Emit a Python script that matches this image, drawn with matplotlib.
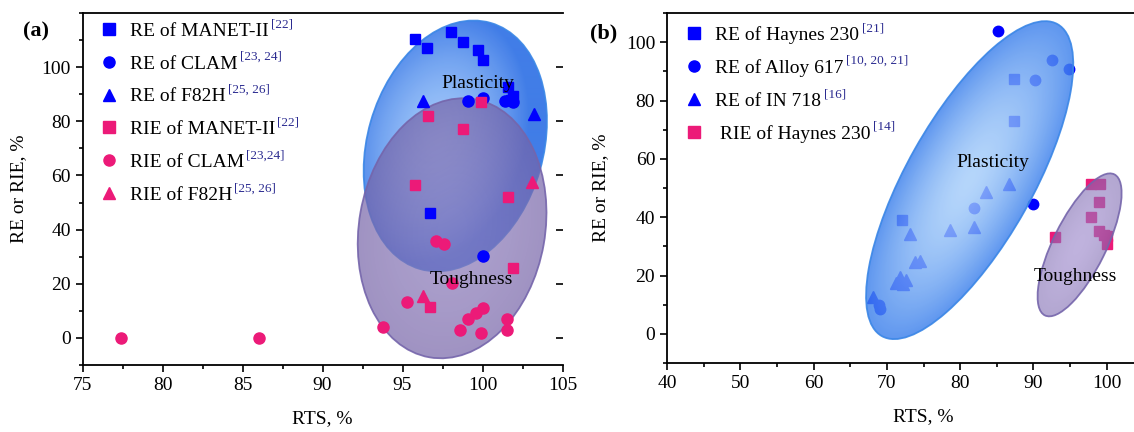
import numpy as np
import matplotlib.pyplot as plt
from matplotlib.patches import Ellipse
from matplotlib.lines import Line2D
from matplotlib import transforms

plt.rcParams['font.family'] = ['Liberation Serif', 'DejaVu Serif']

# ---------------- panel (a): steels ----------------
re_manet_x = [95.8, 96.5, 98.0, 98.8, 99.7, 100.0, 101.6, 101.75, 101.9, 96.7]
re_manet_y = [110.3, 107.0, 112.9, 109.2, 106.2, 102.6, 92.6, 88.0, 89.5, 46.3]
re_clam_x = [99.1, 100.0, 101.4, 101.9, 100.0]
re_clam_y = [87.5, 88.6, 87.5, 87.2, 30.1]
re_f82h_x = [96.3, 103.2]
re_f82h_y = [87.5, 82.7]
rie_manet_x = [99.9, 96.6, 98.8, 95.8, 101.6, 101.9, 96.7]
rie_manet_y = [87.2, 82.0, 77.2, 56.3, 52.2, 25.7, 11.4]
rie_clam_x = [77.4, 86.0, 97.1, 97.6, 95.3, 93.75, 98.6, 99.1, 99.6, 100.0, 99.9, 101.5, 101.5, 98.1]
rie_clam_y = [0, 0, 35.7, 34.6, 13.2, 4.0, 2.9, 7.0, 9.2, 11.0, 1.8, 7.0, 2.9, 20.2]
rie_f82h_x = [103.1, 96.3]
rie_f82h_y = [57.7, 15.5]

labels_a = ["RE of MANET-II", "RE of CLAM", "RE of F82H",
            "RIE of MANET-II", "RIE of CLAM", "RIE of F82H"]
refs_a = ["[22]", "[23, 24]", "[25, 26]", "[22]", "[23,24]", "[25, 26]"]

# ---------------- panel (b): Ni alloys ----------------
re_haynes_x = [87.3, 87.3, 72.0]
re_haynes_y = [87.3, 73.0, 39.2]
re_617_x = [85.2, 92.6, 94.8, 90.2, 89.9, 81.9, 68.9, 69.1]
re_617_y = [103.9, 93.9, 90.8, 86.9, 44.5, 43.2, 10.0, 8.6]
re_718_x = [86.6, 83.5, 81.9, 78.6, 73.1, 73.9, 74.5, 71.3, 71.8, 72.2, 72.6, 68.1]
re_718_y = [51.4, 48.7, 36.5, 35.7, 34.2, 24.5, 25.0, 17.5, 19.5, 17.0, 18.5, 12.5]
rie_haynes_x = [97.9, 99.1, 99.0, 97.9, 99.0, 99.6, 100.0, 100.1, 92.9]
rie_haynes_y = [51.4, 51.4, 45.3, 40.2, 35.4, 34.0, 33.7, 30.8, 33.1]

labels_b = ["RE of Haynes 230", "RE of Alloy 617", "RE of IN 718", " RIE of Haynes 230"]
refs_b = ["[21]", "[10, 20, 21]", "[16]", "[14]"]

blue = "#0000ff"
pink = "#ec1a78"
ref_color = "#2b2b90"
FS = 14


def shaded_ellipse(ax, cx, cy, a, b, ang, c_in, c_out, alpha, edge, z, shift=(0, 0)):
    # ellipse sized in pixels, centred on a data point
    tr = transforms.ScaledTranslation(cx, cy, ax.transData)
    patch = Ellipse((0, 0), 2 * a, 2 * b, angle=ang, transform=tr,
                    facecolor="none", edgecolor=edge, lw=1.3, alpha=0.9, zorder=z + 0.1)
    ax.add_patch(patch)
    x0, x1 = ax.get_xlim()
    y0, y1 = ax.get_ylim()
    bb = ax.get_window_extent()
    sx = bb.width / (x1 - x0)
    sy = bb.height / (y1 - y0)
    xs = np.linspace(x0, x1, int(bb.width))
    ys = np.linspace(y0, y1, int(bb.height))
    X, Y = np.meshgrid(xs, ys)
    dx = (X - cx) * sx - shift[0]
    dy = (Y - cy) * sy - shift[1]
    t = np.deg2rad(ang)
    u = dx * np.cos(t) + dy * np.sin(t)
    v = -dx * np.sin(t) + dy * np.cos(t)
    r = np.clip(np.sqrt((u / a) ** 2 + (v / b) ** 2), 0, 1) ** 1.6
    c_in = np.array(c_in) / 255.0
    c_out = np.array(c_out) / 255.0
    img = np.zeros(X.shape + (4,))
    for k in range(3):
        img[..., k] = c_in[k] + (c_out[k] - c_in[k]) * r
    img[..., 3] = alpha
    im = ax.imshow(img, extent=(x0, x1, y0, y1), origin="lower", aspect="auto",
                   interpolation="bilinear", zorder=z)
    im.set_clip_path(patch)


def style_axes(ax):
    for s in ["left", "bottom", "top"]:
        ax.spines[s].set_linewidth(1.3)
    ax.spines["right"].set_visible(False)
    ax.tick_params(which="both", direction="out", width=1.2, labelsize=FS,
                   top=False, right=False)
    ax.tick_params(which="major", length=5)
    ax.tick_params(which="minor", length=3)


def add_legend(ax, handles, labels, refs, anchor):
    leg = ax.legend(handles, labels, loc="upper left", bbox_to_anchor=anchor,
                    frameon=False, fontsize=FS, handlelength=0.8, handletextpad=0.7,
                    labelspacing=0.78, borderpad=0.2, borderaxespad=0)
    leg.set_zorder(10)
    for txt, ref in zip(leg.get_texts(), refs):
        ax.annotate(ref, xy=(1, 0.55), xycoords=txt, xytext=(1.5, 0),
                    textcoords="offset points", fontsize=9.5, color=ref_color,
                    va="bottom", ha="left", zorder=11)


fig = plt.figure(figsize=(11.34, 4.32), dpi=100)

# ---------- (a) ----------
ax1 = fig.add_axes([82.5 / 1134, 67 / 432, 480 / 1134, 352 / 432])
ax1.set_xlim(75, 105)
ax1.set_ylim(-10, 120)
ax1.set_autoscale_on(False)

shaded_ellipse(ax1, 98.3, 70.9, 128, 88, 74, (155, 196, 250), (55, 118, 230), 0.95,
               "#3a86e6", 1, shift=(-18, 8))
shaded_ellipse(ax1, 98.1, 40.5, 131, 93, 80, (138, 120, 184), (118, 100, 168), 0.7,
               "#7565ab", 1.5)

ax1.plot(re_manet_x, re_manet_y, "s", color=blue, ms=7.5, zorder=3)
ax1.plot(re_clam_x, re_clam_y, "o", color=blue, ms=8, zorder=3)
ax1.plot(re_f82h_x, re_f82h_y, "^", color=blue, ms=8.5, zorder=3)
ax1.plot(rie_manet_x, rie_manet_y, "s", color=pink, ms=7.5, zorder=3)
ax1.plot(rie_clam_x, rie_clam_y, "o", color=pink, ms=8, zorder=3)
ax1.plot(rie_f82h_x, rie_f82h_y, "^", color=pink, ms=8.5, zorder=3)

ax1.text(99.7, 94.1, "Plasticity", fontsize=FS, ha="center", va="center", zorder=6)
ax1.text(99.3, 21.7, "Toughness", fontsize=FS, ha="center", va="center", zorder=6)

ax1.set_xticks(np.arange(75, 106, 5))
ax1.set_xticks(np.arange(75, 106, 2.5), minor=True)
ax1.set_yticks(np.arange(0, 101, 20))
ax1.set_yticks(np.arange(-10, 121, 10), minor=True)
style_axes(ax1)
ax1.set_xlabel("RTS, %", fontsize=FS, labelpad=12)
ax1.set_ylabel("RE or RIE, %", fontsize=FS, labelpad=10)

axr = ax1.twinx()
axr.set_ylim(ax1.get_ylim())
axr.set_yticks(np.arange(0, 101, 20))
axr.tick_params(direction="in", length=5, width=1.2, labelright=False)
for s in axr.spines.values():
    s.set_visible(False)

mk = dict(ls="none", ms=8)
handles_a = [Line2D([], [], marker="s", color=blue, **mk),
             Line2D([], [], marker="o", color=blue, **mk),
             Line2D([], [], marker="^", color=blue, **mk),
             Line2D([], [], marker="s", color=pink, **mk),
             Line2D([], [], marker="o", color=pink, **mk),
             Line2D([], [], marker="^", color=pink, **mk)]
add_legend(axr, handles_a, labels_a, refs_a, (0.03, 0.985))

# ---------- (b) ----------
ax2 = fig.add_axes([667 / 1134, 69 / 432, 513 / 1134, 350 / 432])
ax2.set_xlim(40, 110)
ax2.set_ylim(-10, 110)
ax2.set_autoscale_on(False)

ax2.plot(re_haynes_x, re_haynes_y, "s", color=blue, ms=7, zorder=2)
ax2.plot(re_617_x, re_617_y, "o", color=blue, ms=7.5, zorder=2)
ax2.plot(re_718_x, re_718_y, "^", color=blue, ms=8, zorder=2)
ax2.plot(rie_haynes_x, rie_haynes_y, "s", color=pink, ms=7, zorder=2)

shaded_ellipse(ax2, 81.3, 52.7, 179, 63, 60.6, (165, 205, 250), (60, 128, 236), 0.82,
               "#3a86e6", 3)
shaded_ellipse(ax2, 96.3, 30.5, 78.6, 26.4, 63.8, (150, 128, 200), (128, 108, 178), 0.6,
               "#7565ab", 3)

ax2.text(84.4, 58.9, "Plasticity", fontsize=FS, ha="center", va="center", zorder=6)
ax2.text(95.7, 19.5, "Toughness", fontsize=FS, ha="center", va="center", zorder=6)

ax2.set_xticks(np.arange(40, 101, 10))
ax2.set_xticks(np.arange(45, 106, 10), minor=True)
ax2.set_yticks(np.arange(0, 101, 20))
ax2.set_yticks(np.arange(-10, 111, 10), minor=True)
style_axes(ax2)
ax2.set_xlabel("RTS, %", fontsize=FS, labelpad=12)
ax2.set_ylabel("RE or RIE, %", fontsize=FS, labelpad=12)

handles_b = [Line2D([], [], marker="s", color=blue, **mk),
             Line2D([], [], marker="o", color=blue, **mk),
             Line2D([], [], marker="^", color=blue, **mk),
             Line2D([], [], marker="s", color=pink, **mk)]
add_legend(ax2, handles_b, labels_b, refs_b, (0.03, 0.974))

fig.text(36 / 1134, 1 - 31 / 432, "(a)", fontsize=16, fontweight="bold", ha="center", va="center")
fig.text(604 / 1134, 1 - 33 / 432, "(b)", fontsize=16, fontweight="bold", ha="center", va="center")

fig.savefig("out.png", dpi=100)
